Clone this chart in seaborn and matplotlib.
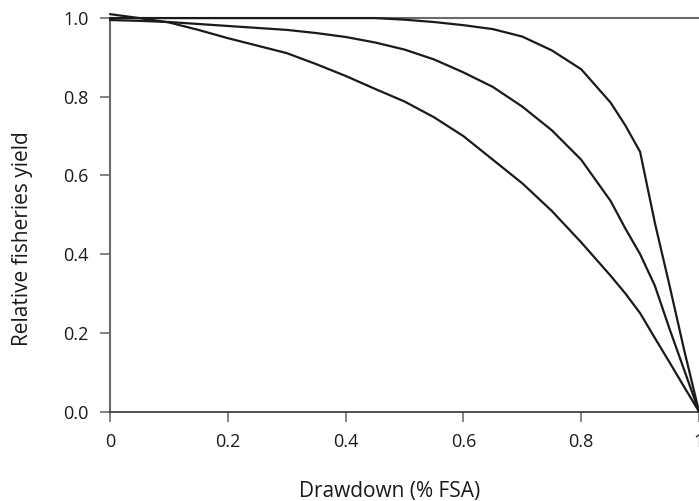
import pandas as pd
import matplotlib
matplotlib.use("Agg")
import matplotlib.pyplot as plt
import seaborn as sns

# --- Datos ---
drawdown = [0.0, 0.05, 0.1, 0.15, 0.2, 0.25, 0.3, 0.35, 0.4, 0.45, 0.5, 0.55,
            0.6, 0.65, 0.7, 0.75, 0.8, 0.85, 0.875, 0.9, 0.925, 0.95, 0.975, 1.0]

yield_outer = [1.0, 1.0, 1.0, 1.0, 1.0, 1.0, 1.0, 1.0, 1.0, 1.0, 0.996, 0.99,
               0.982, 0.972, 0.953, 0.918, 0.87, 0.785, 0.727, 0.66, 0.48, 0.32, 0.155, 0.0]
yield_middle = [0.995, 0.993, 0.99, 0.985, 0.98, 0.975, 0.97, 0.962, 0.952, 0.938, 0.92, 0.895,
                0.862, 0.825, 0.775, 0.715, 0.64, 0.535, 0.465, 0.40, 0.32, 0.21, 0.105, 0.0]
yield_inner = [1.01, 1.0, 0.989, 0.97, 0.949, 0.93, 0.911, 0.883, 0.853, 0.82, 0.788, 0.748,
               0.70, 0.64, 0.58, 0.51, 0.43, 0.345, 0.30, 0.25, 0.187, 0.125, 0.062, 0.0]

x_ticks = [0, 0.2, 0.4, 0.6, 0.8, 1.0]
x_tick_labels = ["0", "0.2", "0.4", "0.6", "0.8", "1"]
y_ticks = [0.0, 0.2, 0.4, 0.6, 0.8, 1.0]
y_tick_labels = ["0.0", "0.2", "0.4", "0.6", "0.8", "1.0"]

df = pd.DataFrame({
    "drawdown": drawdown * 3,
    "yield": yield_outer + yield_middle + yield_inner,
    "curve": ["outer"] * len(drawdown) + ["middle"] * len(drawdown) + ["inner"] * len(drawdown),
})

sns.set_style("white")
plt.rcParams['font.family'] = ['Open Sans', 'DejaVu Sans']

fig = plt.figure(figsize=(6.99, 5.01), dpi=100)
ax = fig.add_axes([0.1574, 0.1786, 0.8426, 0.801])

# linea de referencia en 1.0
ax.axhline(1.0, color="#6a6a6a", lw=1.5, zorder=1)

sns.lineplot(data=df, x="drawdown", y="yield", units="curve", estimator=None,
             color="#1a1a1a", lw=1.6, ax=ax, clip_on=False, zorder=3)

ax.set_xlim(0, 1)
ax.set_ylim(0, 1.02)
ax.set_xticks(x_ticks)
ax.set_xticklabels(x_tick_labels)
ax.set_yticks(y_ticks)
ax.set_yticklabels(y_tick_labels)

for side in ["top", "right"]:
    ax.spines[side].set_visible(False)
ax.spines["left"].set_bounds(0, 1)
ax.spines["left"].set_color("#6a6a6a")
ax.spines["left"].set_linewidth(1.5)
ax.spines["bottom"].set_color("#333333")
ax.spines["bottom"].set_linewidth(1.2)

ax.tick_params(axis="both", which="major", direction="out", length=7.5, width=1.3,
               color="#7a7a7a", labelsize=13, labelcolor="#1a1a1a", pad=8)
ax.tick_params(axis="x", bottom=True)
ax.tick_params(axis="y", left=True)

ax.set_xlabel("Drawdown (% FSA)", fontsize=15, color="#1a1a1a")
ax.set_ylabel("Relative fisheries yield", fontsize=15, color="#1a1a1a")
ax.xaxis.set_label_coords(0.475, -0.173)
ax.yaxis.set_label_coords(-0.1305, 0.432)

fig.savefig("out.png", dpi=100)
plt.close(fig)
